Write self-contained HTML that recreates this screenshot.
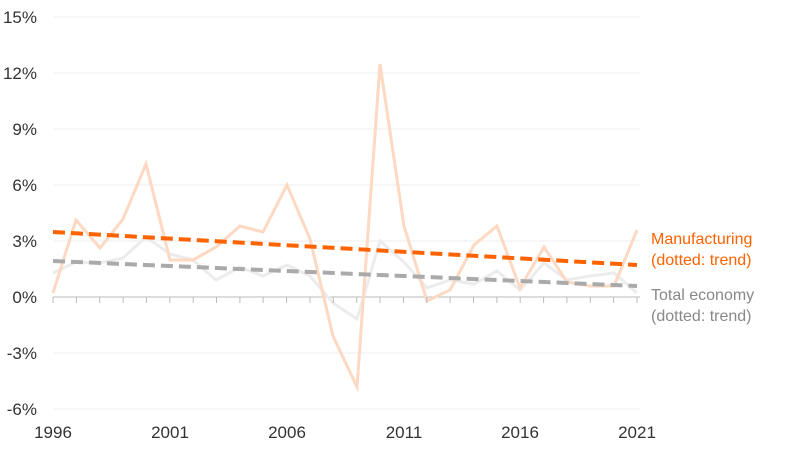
<!DOCTYPE html>
<html><head><meta charset="utf-8"><style>
body{margin:0;background:#fff;width:800px;height:447px;overflow:hidden}
text{font-family:"Liberation Sans",sans-serif;font-size:17px;fill:#333}
</style></head><body>
<svg width="800" height="447" xmlns="http://www.w3.org/2000/svg">
<g stroke="#ededed" stroke-width="1">
<line x1="53" y1="17" x2="640" y2="17"/><line x1="53" y1="73" x2="640" y2="73"/>
<line x1="53" y1="129" x2="640" y2="129"/><line x1="53" y1="185" x2="640" y2="185"/>
<line x1="53" y1="241" x2="640" y2="241"/><line x1="53" y1="353" x2="640" y2="353"/>
<line x1="53" y1="409" x2="640" y2="409"/>
</g>
<line x1="53" y1="297" x2="640" y2="297" stroke="#bbb"/>
<g stroke="#bbb" id="ticks"></g>
<g text-anchor="end">
<text x="37" y="23">15%</text><text x="37" y="79">12%</text><text x="37" y="135">9%</text>
<text x="37" y="191">6%</text><text x="37" y="247">3%</text><text x="37" y="303">0%</text>
<text x="37" y="359">-3%</text><text x="37" y="415">-6%</text>
</g>
<g text-anchor="middle">
<text x="53" y="438">1996</text><text x="170" y="438">2001</text><text x="287" y="438">2006</text>
<text x="404" y="438">2011</text><text x="520" y="438">2016</text><text x="637" y="438">2021</text>
</g>
<polyline fill="none" stroke="#ececec" stroke-width="3" points="53,273 76,262 100,263 123,258 146,237 170,254 193,260 216,280 240,267 263,276 287,265 310,276 333,303 357,319 380,241 404,262 427,288 450,280 474,284 497,271 520,290 544,263 567,280 590,276 614,273 637,293"/>
<polyline fill="none" stroke="#fdd8c2" stroke-width="3" points="53,293 76,220 100,248 123,219 146,164 170,260 193,260 216,247 240,226 263,232 287,185 310,239 333,336 357,387 380,64 404,226 427,301 450,290 474,245 497,226 520,288 544,247 567,282 590,286 614,286 637,230"/>
<line x1="53" y1="261" x2="637" y2="286" stroke="#aaa" stroke-width="4" stroke-dasharray="12,6"/>
<line x1="53" y1="232" x2="637" y2="265" stroke="#ff6200" stroke-width="4" stroke-dasharray="12,6"/>
<text x="651" y="244" style="fill:#ff6200;font-size:16px">Manufacturing</text>
<text x="651" y="265" style="fill:#ff6200;font-size:16px">(dotted: trend)</text>
<text x="651" y="300" style="fill:#888;font-size:16px">Total economy</text>
<text x="651" y="321" style="fill:#888;font-size:16px">(dotted: trend)</text>
<g stroke="#bbb">
<line x1="53" y1="297" x2="53" y2="303"/><line x1="76.4" y1="297" x2="76.4" y2="303"/><line x1="99.7" y1="297" x2="99.7" y2="303"/><line x1="123.1" y1="297" x2="123.1" y2="303"/><line x1="146.4" y1="297" x2="146.4" y2="303"/><line x1="169.8" y1="297" x2="169.8" y2="303"/><line x1="193.2" y1="297" x2="193.2" y2="303"/><line x1="216.5" y1="297" x2="216.5" y2="303"/><line x1="239.9" y1="297" x2="239.9" y2="303"/><line x1="263.2" y1="297" x2="263.2" y2="303"/><line x1="286.6" y1="297" x2="286.6" y2="303"/><line x1="310" y1="297" x2="310" y2="303"/><line x1="333.3" y1="297" x2="333.3" y2="303"/><line x1="356.7" y1="297" x2="356.7" y2="303"/><line x1="380" y1="297" x2="380" y2="303"/><line x1="403.4" y1="297" x2="403.4" y2="303"/><line x1="426.8" y1="297" x2="426.8" y2="303"/><line x1="450.1" y1="297" x2="450.1" y2="303"/><line x1="473.5" y1="297" x2="473.5" y2="303"/><line x1="496.8" y1="297" x2="496.8" y2="303"/><line x1="520.2" y1="297" x2="520.2" y2="303"/><line x1="543.6" y1="297" x2="543.6" y2="303"/><line x1="566.9" y1="297" x2="566.9" y2="303"/><line x1="590.3" y1="297" x2="590.3" y2="303"/><line x1="613.6" y1="297" x2="613.6" y2="303"/><line x1="637" y1="297" x2="637" y2="303"/>
</g>
</svg>
</body></html>
